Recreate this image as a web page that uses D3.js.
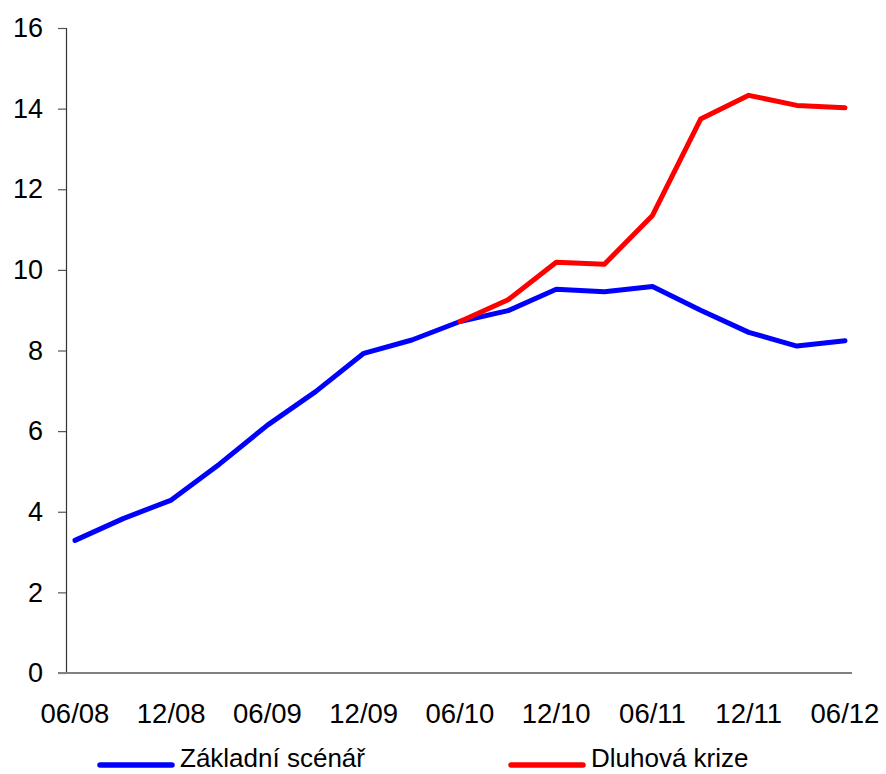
<!DOCTYPE html>
<html>
<head>
<meta charset="utf-8">
<script src="https://cdn.jsdelivr.net/npm/d3@7"></script>
<style>
  html, body { margin: 0; padding: 0; background: #fff; }
  svg { display: block; font-family: "Liberation Sans", Arial, sans-serif; }
</style>
</head>
<body>
<svg id="chart" width="886" height="774"></svg>
<script>
// Quarterly periods, June 2008 to June 2012
const periods = ["06/08","09/08","12/08","03/09","06/09","09/09","12/09","03/10","06/10",
                 "09/10","12/10","03/11","06/11","09/11","12/11","03/12","06/12"];
const tickLabels = ["06/08","12/08","06/09","12/09","06/10","12/10","06/11","12/11","06/12"];
const yTicks = [0, 2, 4, 6, 8, 10, 12, 14, 16];

// Baseline scenario
const zakladni = [3.29, 3.83, 4.29, 5.18, 6.15, 6.98, 7.93, 8.26, 8.72,
                  8.99, 9.52, 9.46, 9.59, 9.00, 8.45, 8.11, 8.24];
// Debt crisis scenario (branches off in 06/10)
const dluhova = [null, null, null, null, null, null, null, null, 8.72,
                 9.26, 10.19, 10.14, 11.35, 13.74, 14.33, 14.08, 14.02];

const seriesNames = ["Základní scénář", "Dluhová krize"];
const seriesColors = ["#0000FF", "#FF0000"];

const svg = d3.select("#chart");

const plot = { left: 66, right: 852, top: 28, bottom: 673 };

const x = d3.scalePoint()
  .domain(periods)
  .range([75, 845]);

const y = d3.scaleLinear()
  .domain([0, 16])
  .range([plot.bottom, plot.top]);

// Y axis
const yAxis = svg.append("g")
  .attr("transform", `translate(${plot.left},0)`)
  .call(d3.axisLeft(y).tickValues(yTicks).tickSize(8).tickPadding(15).tickFormat(d3.format("d")));
yAxis.select(".domain").attr("stroke", "#333").attr("stroke-width", 1.2);
yAxis.selectAll(".tick line").attr("stroke", "#555").attr("stroke-width", 1.2);
yAxis.selectAll(".tick text")
  .attr("fill", "#000")
  .style("font-size", "27px")
  .style("font-family", "'Liberation Sans', Arial, sans-serif");

// X axis baseline
svg.append("line")
  .attr("x1", plot.left - 8).attr("x2", plot.right)
  .attr("y1", y(0)).attr("y2", y(0))
  .attr("stroke", "#808080").attr("stroke-width", 2);

// X labels
svg.append("g").selectAll("text")
  .data(tickLabels)
  .join("text")
  .attr("x", d => x(d))
  .attr("y", 723)
  .attr("text-anchor", "middle")
  .style("font-size", "27.5px")
  .attr("fill", "#000")
  .text(d => d);

// Lines
const line = d3.line()
  .defined(d => d.v != null)
  .x(d => x(d.p))
  .y(d => y(d.v));

[zakladni, dluhova].forEach((vals, i) => {
  const pts = periods.map((p, j) => ({ p, v: vals[j] }));
  svg.append("path")
    .datum(pts)
    .attr("fill", "none")
    .attr("stroke", seriesColors[i])
    .attr("stroke-width", 5)
    .attr("stroke-linejoin", "round")
    .attr("stroke-linecap", "round")
    .attr("d", line);
});

// Legend
const legendX = [100, 511];
const legend = svg.append("g");
seriesNames.forEach((name, i) => {
  legend.append("line")
    .attr("x1", legendX[i]).attr("x2", legendX[i] + 72)
    .attr("y1", 765).attr("y2", 765)
    .attr("stroke", seriesColors[i])
    .attr("stroke-width", 5.5)
    .attr("stroke-linecap", "round");
  legend.append("text")
    .attr("x", legendX[i] + 80)
    .attr("y", 767)
    .style("font-size", "26px")
    .attr("fill", "#000")
    .text(name);
});
</script>
</body>
</html>
